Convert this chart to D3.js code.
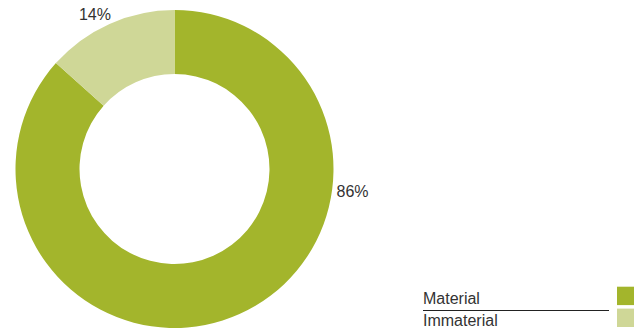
<!DOCTYPE html>
<html><head><meta charset="utf-8">
<script src="https://cdn.jsdelivr.net/npm/d3@7"></script>
<style>body{margin:0;background:#fff;font-family:"Liberation Sans",Arial,sans-serif;}</style>
</head><body><svg id="c" width="640" height="331"></svg>
<script>
const categories = ["Material", "Immaterial"];
const values = [86.6, 13.4];
const labels = ["86%", "14%"];
const colors = ["#a3b52c", "#cfd797"];

const svg = d3.select("#c");
const cx = 174.5, cy = 169, rO = 159, rI = 95;
const pie = d3.pie().sort(null).value(d => d)(values);
const arc = d3.arc().innerRadius(rI).outerRadius(rO);
const g = svg.append("g").attr("transform", `translate(${cx},${cy})`);
g.selectAll("path").data(pie).enter().append("path")
  .attr("d", arc).attr("fill", (d, i) => colors[i]);

// labels
const labelPos = [[336.5, 196.5, "start"], [111, 19.5, "end"]];
labels.forEach((t, i) => {
  svg.append("text").attr("x", labelPos[i][0]).attr("y", labelPos[i][1])
    .attr("text-anchor", labelPos[i][2]).attr("font-size", 16).attr("fill", "#333").text(t);
});

// legend
const ly = d3.scaleBand().domain(categories).range([286.7, 327]).paddingInner(0.16);
categories.forEach((c, i) => {
  svg.append("text").attr("x", 423).attr("y", ly(c) + 17.3).attr("font-size", 16).attr("fill", "#333").text(c);
  svg.append("rect").attr("x", 617).attr("y", ly(c)).attr("width", 17).attr("height", ly.bandwidth()).attr("fill", colors[i]);
});
svg.append("line").attr("x1", 423).attr("x2", 609).attr("y1", 310.5).attr("y2", 310.5).attr("stroke", "#222").attr("stroke-width", 1);
</script></body></html>
